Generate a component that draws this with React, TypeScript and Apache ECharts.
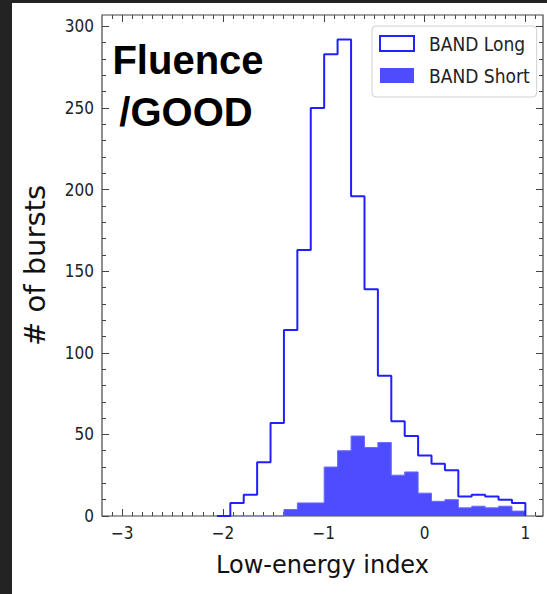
import React, { useEffect, useRef } from "react";
import * as echarts from "echarts";

// Histogram bin edges (shared by both histograms)
const BIN_EDGES = [
  -2.06, -1.927, -1.794, -1.661, -1.528, -1.395, -1.262, -1.129, -0.996, -0.863,
  -0.729, -0.596, -0.463, -0.33, -0.197, -0.064, 0.069, 0.202, 0.335, 0.468,
  0.601, 0.734, 0.867, 1.0,
];
// Counts per bin
const BAND_LONG = [0, 8, 13, 33, 57, 114, 163, 250, 283, 292, 196, 139, 86, 58, 49, 37, 32, 28, 12, 13, 12, 10, 8];
const BAND_SHORT = [0, 0, 0, 0, 0, 4, 8, 8, 30, 40, 49, 42, 45, 25, 27, 14, 9, 10, 5, 6, 5, 6, 3];

const X_TICKS = [-3, -2, -1, 0, 1];
const Y_TICKS = [0, 50, 100, 150, 200, 250, 300];
const X_MIN = -3.2;
const X_MAX = 1.175;
const Y_MIN = 0;
const Y_MAX = 307;

const SERIES_NAMES = ["BAND Long", "BAND Short"];
const ANNOTATION = ["Fluence", "/GOOD"];
const X_TITLE = "Low-energy index";
const Y_TITLE = "# of bursts";

function stepOutline(edges: number[], counts: number[]): number[][] {
  const pts: number[][] = [[edges[0], 0]];
  counts.forEach((c, i) => {
    pts.push([edges[i], c]);
    pts.push([edges[i + 1], c]);
  });
  pts.push([edges[edges.length - 1], 0]);
  return pts;
}

function minorTicks(lo: number, hi: number, step: number, majors: number[]): number[] {
  const out: number[] = [];
  const n = Math.round((hi - lo) / step);
  for (let i = 0; i <= n; i++) {
    const v = Math.round((lo + i * step) * 1000) / 1000;
    if (!majors.some((m) => Math.abs(m - v) < 1e-6)) out.push(v);
  }
  return out;
}

const fmt = (v: number) => (v < 0 ? "\u2212" + Math.abs(v) : String(v));

export default function App() {
  const ref = useRef<HTMLDivElement>(null);
  useEffect(() => {
    if (!ref.current) return;
    const chart = echarts.init(ref.current, undefined, { renderer: "svg" });
    const axisColor = "#444";
    const labelFont = {
      fontFamily: "DejaVu Sans Condensed",
      fontSize: 17,
      color: "#222",
    };
    const xMinor = minorTicks(-3.1, 1.1, 0.1, X_TICKS);
    const yMinor = minorTicks(0, 300, 10, Y_TICKS);
    const tickStyle = { color: axisColor, width: 1 };
    const xAxisBase = {
      type: "value" as const,
      min: X_MIN,
      max: X_MAX,
      axisLine: { show: false, onZero: false },
      splitLine: { show: false },
    };
    const yAxisBase = {
      type: "value" as const,
      min: Y_MIN,
      max: Y_MAX,
      axisLine: { show: false, onZero: false },
      splitLine: { show: false },
    };
    const option: any = {
      animation: false,
      backgroundColor: "#fff",
      grid: {
        left: 80,
        right: 4,
        top: 12,
        bottom: 78,
        show: true,
        borderColor: axisColor,
        borderWidth: 1.2,
        backgroundColor: "transparent",
      },
      legend: {
        orient: "vertical",
        left: 360,
        top: 23,
        padding: [8, 7, 12, 7],
        itemGap: 13,
        itemWidth: 34,
        itemHeight: 15,
        borderColor: "#d0d0d0",
        borderWidth: 1,
        borderRadius: 4,
        backgroundColor: "rgba(255,255,255,0.85)",
        textStyle: {
          fontFamily: "DejaVu Sans Condensed",
          fontSize: 19,
          color: "#222",
          padding: [0, 0, 0, 10],
        },
        data: [
          {
            name: SERIES_NAMES[0],
            icon: "rect",
            itemStyle: { color: "#fff", borderColor: "#2323ff", borderWidth: 2 },
          },
          {
            name: SERIES_NAMES[1],
            icon: "rect",
            itemStyle: { color: "#4d4dff", borderWidth: 0 },
          },
        ],
      },
      xAxis: [
        {
          ...xAxisBase,
          position: "bottom",
          name: X_TITLE,
          nameLocation: "middle",
          nameGap: 37,
          nameTextStyle: { fontFamily: "DejaVu Sans", fontSize: 24, color: "#111" },
          axisTick: { show: true, inside: true, length: 7, lineStyle: tickStyle, customValues: X_TICKS },
          axisLabel: { ...labelFont, margin: 8, customValues: X_TICKS, formatter: fmt },
        },
        {
          ...xAxisBase,
          position: "bottom",
          axisTick: { show: true, inside: true, length: 4, lineStyle: tickStyle, customValues: xMinor },
          axisLabel: { show: false },
        },
        {
          ...xAxisBase,
          position: "top",
          axisTick: { show: true, inside: true, length: 7, lineStyle: tickStyle, customValues: X_TICKS },
          axisLabel: { show: false },
        },
        {
          ...xAxisBase,
          position: "top",
          axisTick: { show: true, inside: true, length: 4, lineStyle: tickStyle, customValues: xMinor },
          axisLabel: { show: false },
        },
      ],
      yAxis: [
        {
          ...yAxisBase,
          position: "left",
          name: Y_TITLE,
          nameLocation: "middle",
          nameRotate: 90,
          nameGap: 53,
          nameTextStyle: { fontFamily: "DejaVu Sans", fontSize: 29, color: "#111" },
          axisTick: { show: true, inside: true, length: 7, lineStyle: tickStyle, customValues: Y_TICKS },
          axisLabel: { ...labelFont, margin: 8, customValues: Y_TICKS, formatter: fmt },
        },
        {
          ...yAxisBase,
          position: "left",
          axisTick: { show: true, inside: true, length: 4, lineStyle: tickStyle, customValues: yMinor },
          axisLabel: { show: false },
        },
        {
          ...yAxisBase,
          position: "right",
          axisTick: { show: true, inside: true, length: 7, lineStyle: tickStyle, customValues: Y_TICKS },
          axisLabel: { show: false },
        },
        {
          ...yAxisBase,
          position: "right",
          axisTick: { show: true, inside: true, length: 4, lineStyle: tickStyle, customValues: yMinor },
          axisLabel: { show: false },
        },
      ],
      series: [
        {
          name: SERIES_NAMES[1],
          type: "line",
          data: stepOutline(BIN_EDGES, BAND_SHORT),
          symbol: "none",
          lineStyle: { color: "#6a6aff", width: 1 },
          areaStyle: { color: "#4d4dff", opacity: 1 },
          itemStyle: { color: "#4d4dff" },
          z: 2,
        },
        {
          name: SERIES_NAMES[0],
          type: "line",
          data: stepOutline(BIN_EDGES, BAND_LONG),
          symbol: "none",
          lineStyle: { color: "#2020ff", width: 2 },
          itemStyle: { color: "#2020ff" },
          z: 3,
        },
      ],
      graphic: [
        {
          type: "text",
          x: 176,
          y: 57,
          style: {
            text: ANNOTATION[0],
            fontFamily: "Liberation Sans",
            fontWeight: "bold",
            fontSize: 40,
            fill: "#000",
            align: "center",
            verticalAlign: "middle",
          },
        },
        {
          type: "text",
          x: 174,
          y: 109,
          style: {
            text: ANNOTATION[1],
            fontFamily: "Liberation Sans",
            fontWeight: "bold",
            fontSize: 40,
            fill: "#000",
            align: "center",
            verticalAlign: "middle",
          },
        },
      ],
    };
    chart.setOption(option);
    return () => chart.dispose();
  }, []);

  return (
    <div
      style={{
        position: "fixed",
        left: 0,
        top: 0,
        width: 547,
        height: 594,
        background: "#232323",
        overflow: "hidden",
      }}
    >
      <div
        ref={ref}
        style={{ position: "absolute", left: 12, top: 3, width: 535, height: 591, background: "#fff" }}
      />
    </div>
  );
}
